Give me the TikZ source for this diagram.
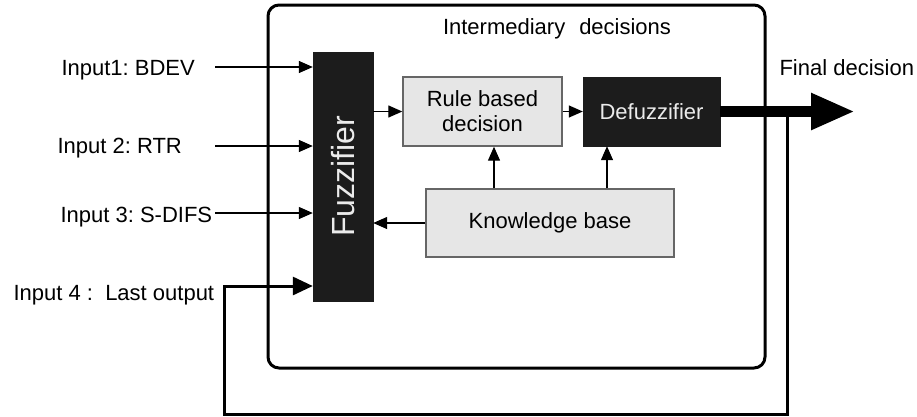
\documentclass[tikz,border=0pt]{standalone}
\usepackage{fontspec}
\setmainfont{Liberation Sans}
\usepackage{tikz}
\usetikzlibrary{arrows.meta}

\definecolor{boxgray}{HTML}{E6E6E6}
\definecolor{boxedge}{HTML}{666666}
\definecolor{boxdark}{HTML}{1C1C1C}

\begin{document}
\frenchspacing
\begin{tikzpicture}[x=1pt,y=-1pt,
    every node/.style={font=\fontsize{22}{25}\selectfont},
    lightbox/.style={draw=boxedge, line width=1.4pt, fill=boxgray, align=center, inner sep=0pt},
    darkbox/.style={draw=boxdark, fill=boxdark, text=white!92!black, inner sep=0pt},
    thinarrow/.style={line width=1.3pt, -{Triangle[length=14pt,width=12pt]}},
    fbarrow/.style={line width=3pt, -{Triangle[length=20pt,width=18pt]}}]
                \useasboundingbox (0,0) rectangle (917,416);

                % Frame
                \draw[line width=3pt, rounded corners=11pt] (268,5) rectangle (765,368);
                \node (inter) at (557,29) {Intermediary\hspace{14pt}decisions};

                % Blocks
                \node[darkbox, minimum width=60pt, minimum height=249pt] (fuzz) at (343,176.5) {};
                \node[rotate=90, text=white!92!black, font=\fontsize{32}{36}\selectfont] (fuzzlbl) at (fuzz) {Fuzzifier};
                \node[lightbox, minimum width=159pt, minimum height=69pt] (rule) at (482.5,111.5) {Rule based\\decision};
                \node[darkbox, minimum width=137pt, minimum height=69pt] (defuzz) at (651.5,111.5) {Defuzzifier};
                \node[lightbox, minimum width=248pt, minimum height=68pt] (know) at (550,223) {Knowledge base};

                % Inputs
                \coordinate (in1) at (215,67);
                \coordinate (in2) at (215,146);
                \coordinate (in3) at (215,213);
                \coordinate (in4) at (224,286);
                \node[anchor=base west] (lbl1) at (58,75) {Input1: BDEV};
                \node[anchor=base west] (lbl2) at (54,153) {Input 2: RTR};
                \node[anchor=base west] (lbl3) at (57,222) {Input 3: S-DIFS};
                \node[anchor=base west] (lbl4) at (10,300) {Input 4 :\ \ Last output};
                \draw[thinarrow] (in1) -- (in1 -| fuzz.west);
                \draw[thinarrow] (in2) -- (in2 -| fuzz.west);
                \draw[thinarrow] (in3) -- (in3 -| fuzz.west);

                % Inner connections
                \draw[thinarrow] (fuzz.east |- rule.west) -- (rule.west);
                \draw[thinarrow] (rule.east) -- (defuzz.west);
                \draw[thinarrow] ([xshift=11.5pt]rule.south |- know.north) -- ([xshift=11.5pt]rule.south);
                \draw[thinarrow] ([xshift=-44.5pt]defuzz.south |- know.north) -- ([xshift=-44.5pt]defuzz.south);
                \draw[thinarrow] (know.west) -- (know.west -| fuzz.east);

                % Output
                \coordinate (out) at (855,111.5);
                \coordinate (fbtop) at (787,111.5);
                \coordinate (fbbot) at (224,414);
                \draw[line width=11pt, -{Triangle[length=44pt,width=34pt]}] (defuzz.east) -- (out);
                \node[anchor=base west] (outlbl) at (776,75) {Final decision};

                % Feedback
                \draw[fbarrow] (fbtop) |- (fbbot) -- (in4) -- (in4 -| fuzz.west);
\end{tikzpicture}
\end{document}
